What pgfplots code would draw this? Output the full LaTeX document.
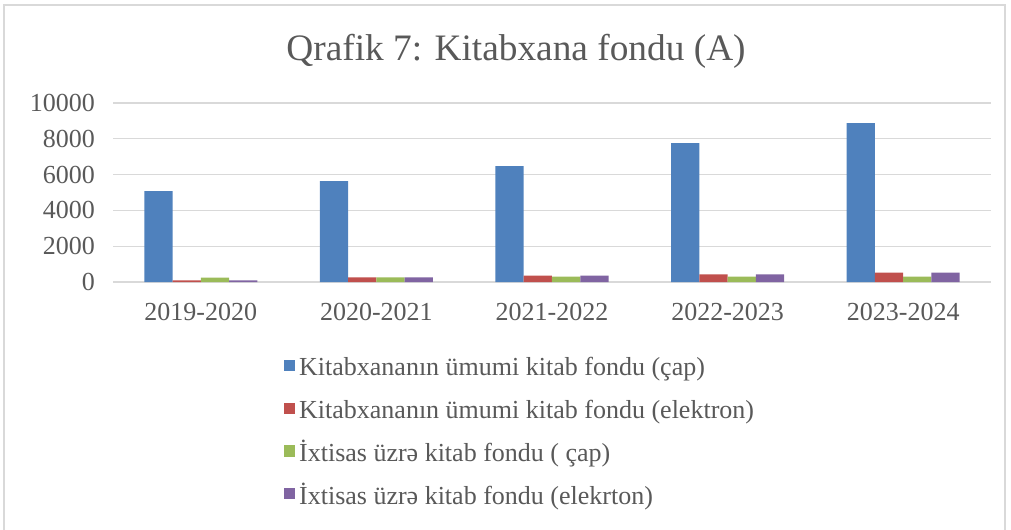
\documentclass[border=0pt]{standalone}
\usepackage{pgfplots}
\pgfplotsset{compat=1.18}
\usepackage{fontspec}
\setmainfont{Liberation Serif}
\definecolor{cBlue}{HTML}{4F81BD}
\definecolor{cRed}{HTML}{C0504D}
\definecolor{cGreen}{HTML}{9BBB59}
\definecolor{cPurple}{HTML}{8064A2}
\definecolor{cText}{HTML}{595959}
\definecolor{cGrid}{HTML}{D9D9D9}
\begin{document}
\begin{tikzpicture}
\path[use as bounding box] (0pt,0pt) rectangle (758.25pt,396.75pt);
\draw[cGrid, line width=1.2pt] (3pt,-10pt) -- (3pt,393pt) -- (753.75pt,393pt) -- (753.75pt,-10pt);
\node[text=cText, font=\fontsize{28}{33}\selectfont] at (387pt,358pt) {Qrafik 7: Kitabxana fondu (A)};
\begin{axis}[
  at={(84.75pt,185.25pt)}, anchor=south west,
  scale only axis,
  width=658.5pt, height=134.25pt,
  ybar=0pt, bar width=21.2pt,
  xmin=-0.5, xmax=4.5,
  ymin=0, ymax=10000,
  xtick=data,
  xticklabels={2019-2020,2020-2021,2021-2022,2022-2023,2023-2024},
  ytick={0,2000,4000,6000,8000,10000},
  scaled y ticks=false,
  /pgf/number format/assume math mode=true,
  yticklabel={\pgfmathprintnumber[fixed,1000 sep={}]{\tick}},
  ymajorgrids, grid style={cGrid, line width=1pt},
  axis x line*=bottom, axis y line*=left,
  x axis line style={cGrid, line width=1pt, -},
  y axis line style={draw=none},
  major tick length=0pt,
  tick label style={text=cText, font=\fontsize{19.5}{23}\selectfont},
  yticklabel style={xshift=-10pt},
  xticklabel style={yshift=-12pt},
  legend style={
    at={(0.190,-0.397)}, anchor=north west, draw=none,
    font=\fontsize{19.5}{23}\selectfont, text=cText,
    nodes={text height=14pt, text depth=4pt, inner ysep=1pt, inner xsep=3pt},
    row sep=12.2pt, column sep=0pt},
  legend cell align=left,
  legend image code/.code={\fill[#1] (0pt,-1pt) rectangle (8.3pt,7.3pt);},
]
\addplot[fill=cBlue, draw=none] coordinates {(0,5080) (1,5640) (2,6480) (3,7760) (4,8880)};
\addplot[fill=cRed, draw=none] coordinates {(0,95) (1,260) (2,360) (3,430) (4,525)};
\addplot[fill=cGreen, draw=none] coordinates {(0,245) (1,260) (2,300) (3,300) (4,300)};
\addplot[fill=cPurple, draw=none] coordinates {(0,95) (1,260) (2,360) (3,430) (4,525)};
\legend{Kitabxananın ümumi kitab fondu (çap),Kitabxananın ümumi kitab fondu (elektron),İxtisas üzrə kitab fondu ( çap),İxtisas üzrə kitab fondu (elekrton)}
\end{axis}
\end{tikzpicture}
\end{document}
